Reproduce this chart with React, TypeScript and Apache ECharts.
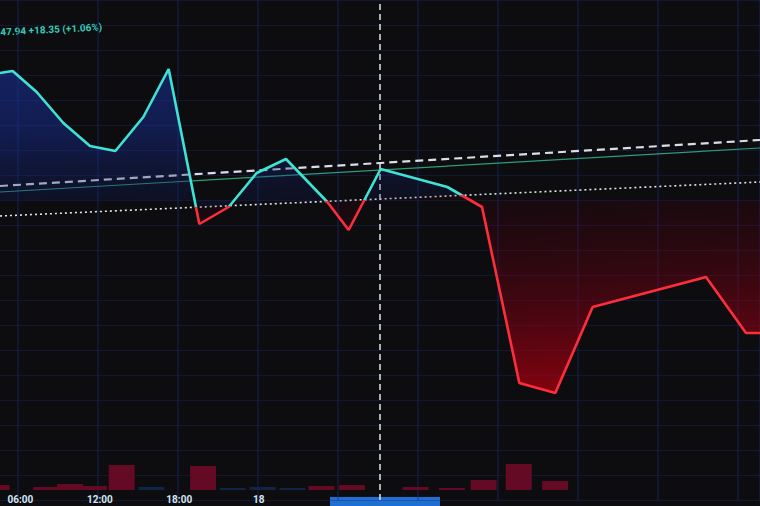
import React, { useEffect, useRef } from "react";
import * as echarts from "echarts";

// ---- data ----
const priceHours = [4.65, 5.6, 7.4, 9.4, 11.4, 13.3, 15.4, 17.3, 19.6, 21.8, 23.9, 26.1, 29.2, 30.8, 33.2, 38.2, 40.8, 43.6, 46.3, 49.1, 57.6, 60.6, 61.65];
const prices = [1762.7, 1762.9, 1760.8, 1757.7, 1755.4, 1754.9, 1758.3, 1763.1, 1747.6, 1749.3, 1752.7, 1754.1, 1749.8, 1747.0, 1753.1, 1751.3, 1749.3, 1731.7, 1730.7, 1739.3, 1742.3, 1736.7, 1736.7];

const volumeHours = [4.2, 7.95, 9.75, 11.55, 13.65, 15.9, 19.8, 22.05, 24.3, 26.55, 28.75, 31.05, 35.85, 38.6, 41.0, 43.65, 46.4];
const volumes = [5, 3, 6, 4, 25, 3, 24, 2, 3, 2, 4, 5, 3, 2, 10, 26, 9];
const volumeSide = ["down", "down", "down", "down", "down", "up", "down", "up", "up", "up", "down", "down", "down", "down", "down", "down", "down"];

const baselineEnds = [[4.65, 1748.4], [61.65, 1751.8]];
const dashedLineEnds = [[4.65, 1751.4], [61.65, 1756.0]];
const greenLineEnds = [[4.65, 1750.8], [61.65, 1755.2]];
const crosshairHour = 33.15;
const areaOrigin = 1750;

const headerText = "47.94 +18.35 (+1.06%)";
const dayLabels: Record<number, string> = { 24: "18", 48: "19" };
const firstLabelHour = 6;
const lastLabelHour = 24;

function hourLabel(v: number): string {
  if (v < firstLabelHour || v > lastLabelHour || v % 6 !== 0) return "";
  if (v % 24 === 0) return dayLabels[v] || "";
  return String(v % 24).padStart(2, "0") + ":00";
}

// the chart canvas is wider than the window and shifted left, so that hour 0 lies off-screen
const SHIFT = 62;

export default function App() {
  const ref = useRef<HTMLDivElement>(null);
  useEffect(() => {
    if (!ref.current) return;
    const chart = echarts.init(ref.current, undefined, { renderer: "svg" });
    const option: any = {
      animation: false,
      backgroundColor: "#0d0c0f",
      grid: [
        { left: 0, right: 0, top: 0, bottom: 6 },
        { left: 0, right: 0, bottom: 16, height: 40 },
      ],
      xAxis: [
        {
          type: "value", gridIndex: 0, min: 0, max: 61.65, interval: 6,
          axisLine: { show: false }, axisTick: { show: false }, axisLabel: { show: false },
          splitLine: { show: true, lineStyle: { color: "rgba(26,44,110,0.5)", width: 1.5 } },
        },
        {
          type: "value", gridIndex: 1, min: 0, max: 61.65, interval: 6,
          axisLine: { show: false }, axisTick: { show: false }, splitLine: { show: false },
          axisLabel: {
            color: "#d4e6f4", fontSize: 10, fontWeight: "bold", fontFamily: "Roboto",
            margin: 4, formatter: hourLabel,
          },
        },
      ],
      yAxis: [
        {
          type: "value", gridIndex: 0, min: 1720, max: 1770, interval: 2.5,
          axisLine: { show: false }, axisTick: { show: false }, axisLabel: { show: false },
          splitLine: { show: true, lineStyle: { color: "rgba(26,44,110,0.38)", width: 1.2 } },
        },
        { type: "value", gridIndex: 1, min: 0, max: 40, show: false, splitLine: { show: false } },
      ],
      series: [
        {
          id: "volume", type: "bar", xAxisIndex: 1, yAxisIndex: 1, barWidth: 26,
          data: volumeHours.map((h, i) => ({
            value: [h, volumes[i]],
            itemStyle: { color: volumeSide[i] === "down" ? "#640a24" : "#0f2446" },
          })),
          z: 1,
        },
        {
          id: "price", type: "line", xAxisIndex: 0, yAxisIndex: 0,
          data: priceHours.map((h, i) => [h, prices[i]]),
          symbol: "none", showSymbol: false,
          lineStyle: { width: 2.6, color: "#3fe3d4" },
          areaStyle: { origin: areaOrigin, color: "rgba(20,40,120,0.4)", opacity: 1 },
          z: 5,
          markLine: {
            silent: true, symbol: ["none", "none"], label: { show: false },
            data: [
              [{ coord: baselineEnds[0], lineStyle: { color: "#dfe6ee", width: 1.6, type: [2, 3] } }, { coord: baselineEnds[1] }],
              [{ coord: greenLineEnds[0], lineStyle: { color: "#2e9c7c", width: 1.2, type: "solid" } }, { coord: greenLineEnds[1] }],
              [{ coord: dashedLineEnds[0], lineStyle: { color: "#d9dee8", width: 2.2, type: [8, 5] } }, { coord: dashedLineEnds[1] }],
              { xAxis: crosshairHour, lineStyle: { color: "#dfe6ee", width: 1.5, type: [6, 4] } },
            ],
          },
        },
      ],
      graphic: [
        {
          type: "text", x: SHIFT, y: 27, rotation: 0.05,
          style: { text: headerText, fill: "#38cdb9", font: "bold 10px Roboto" },
        },
        {
          type: "rect", shape: { x: SHIFT + 330, y: 497, width: 110, height: 12 },
          style: { fill: "#1f6fd2" },
        },
      ],
    };
    chart.setOption(option);

    const p1 = chart.convertToPixel({ gridIndex: 0 }, baselineEnds[0]) as number[];
    const p2 = chart.convertToPixel({ gridIndex: 0 }, baselineEnds[1]) as number[];
    const dx = p2[0] - p1[0], dy = p2[1] - p1[1];
    const len = Math.hypot(dx, dy) || 1;
    const nx = -dy / len, ny = dx / len;
    const mx = (p1[0] + p2[0]) / 2, my = (p1[1] + p2[1]) / 2;
    const R = 200;
    const grad = (stops: { offset: number; color: string }[]) => ({
      type: "linear", global: true,
      x: mx - nx * R, y: my - ny * R, x2: mx + nx * R, y2: my + ny * R,
      colorStops: stops,
    });
    chart.setOption({
      series: [
        {
          id: "price",
          lineStyle: {
            color: grad([
              { offset: 0, color: "#3fe3d4" },
              { offset: 0.5, color: "#3fe3d4" },
              { offset: 0.5, color: "#ff2d3a" },
              { offset: 1, color: "#ff2d3a" },
            ]),
          },
          areaStyle: {
            color: grad([
              { offset: 0, color: "rgba(30,60,190,0.55)" },
              { offset: 0.3, color: "rgba(24,50,165,0.42)" },
              { offset: 0.5, color: "rgba(16,30,90,0.22)" },
              { offset: 0.5, color: "rgba(70,0,14,0.15)" },
              { offset: 0.8, color: "rgba(130,0,18,0.5)" },
              { offset: 1, color: "rgba(170,0,16,0.75)" },
            ]),
          },
        },
      ],
    });
    return () => chart.dispose();
  }, []);
  return (
    <div
      ref={ref}
      style={{ position: "fixed", left: -SHIFT, top: 0, width: 760 + SHIFT, height: 506 }}
    />
  );
}
